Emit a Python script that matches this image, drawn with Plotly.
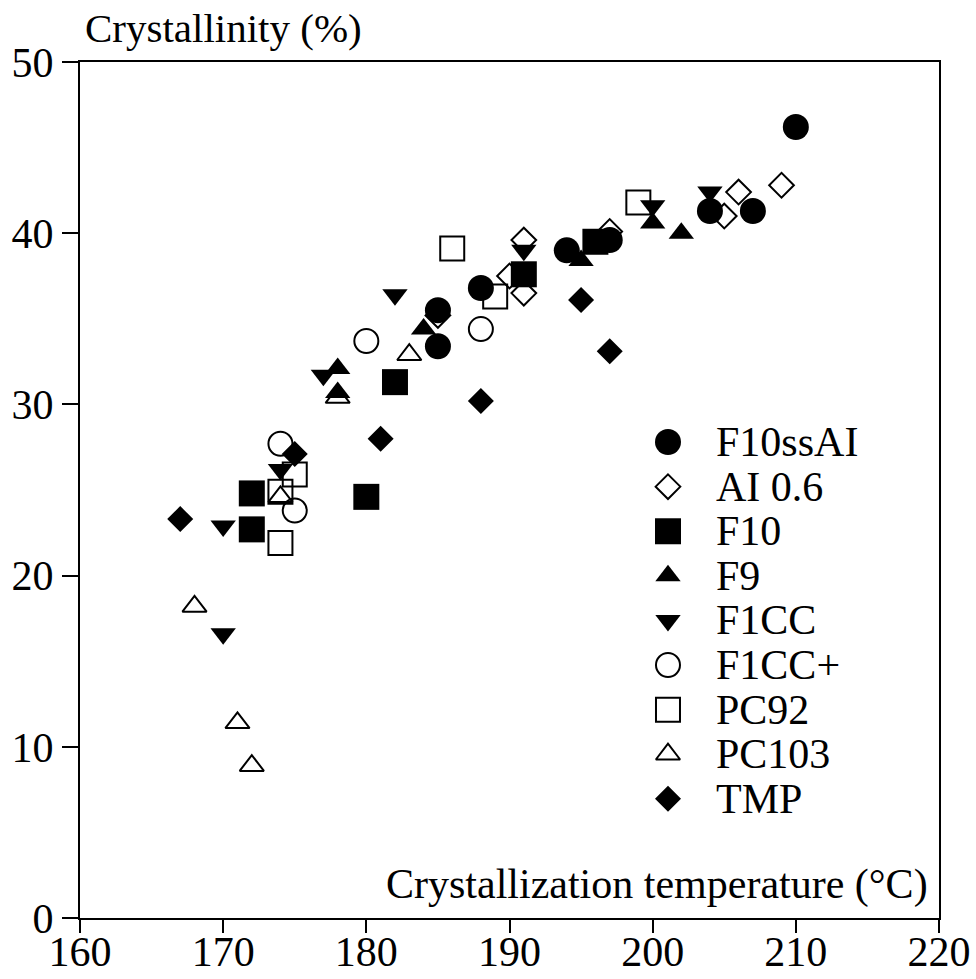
import plotly.graph_objects as go

# ---- data ----
f10ssai_x = [185, 185, 188, 194, 197, 204, 207, 210]
f10ssai_y = [33.4, 35.5, 36.8, 39.0, 39.6, 41.3, 41.3, 46.2]

ai06_x = [185, 190, 191, 191, 197, 205, 206, 209]
ai06_y = [35.2, 37.5, 39.6, 36.5, 40.1, 41.0, 42.4, 42.8]

f10_x = [172, 172, 180, 182, 191, 196]
f10_y = [24.8, 22.7, 24.6, 31.3, 37.6, 39.5]

f9_x = [178, 178, 184, 195, 200, 202]
f9_y = [32.1, 30.7, 34.4, 38.4, 40.6, 40.0]

f1cc_x = [170, 170, 174, 177, 182, 191, 200, 204]
f1cc_y = [16.6, 22.9, 26.2, 31.7, 36.4, 39.0, 41.6, 42.4]

f1ccp_x = [174, 175, 180, 188]
f1ccp_y = [27.7, 23.8, 33.7, 34.4]

pc92_x = [174, 174, 175, 186, 189, 199]
pc92_y = [21.9, 24.9, 25.9, 39.1, 36.3, 41.8]

pc103_x = [168, 171, 172, 174, 178, 183]
pc103_y = [18.2, 11.4, 8.9, 24.6, 30.4, 32.9]

tmp_x = [167, 175, 181, 188, 195, 197]
tmp_y = [23.3, 27.1, 28.0, 30.2, 36.1, 33.1]

series_names = ["F10ssAI", "AI 0.6", "F10", "F9", "F1CC", "F1CC+", "PC92", "PC103", "TMP"]
x_ticks = [160, 170, 180, 190, 200, 210, 220]
y_ticks = [0, 10, 20, 30, 40, 50]

# ---- styles ----
FONT = "Liberation Serif"
FS = 42
styles = {
    "F10ssAI": dict(symbol="circle", size=26),
    "AI 0.6": dict(symbol="diamond-open", size=19),
    "F10": dict(symbol="square", size=26),
    "F9": dict(symbol="triangle-up", size=22),
    "F1CC": dict(symbol="triangle-down", size=22),
    "F1CC+": dict(symbol="circle-open", size=24),
    "PC92": dict(symbol="square-open", size=24),
    "PC103": dict(symbol="triangle-up-open", size=21),
    "TMP": dict(symbol="diamond", size=20),
}
data = {
    "F10ssAI": (f10ssai_x, f10ssai_y),
    "AI 0.6": (ai06_x, ai06_y),
    "F10": (f10_x, f10_y),
    "F9": (f9_x, f9_y),
    "F1CC": (f1cc_x, f1cc_y),
    "F1CC+": (f1ccp_x, f1ccp_y),
    "PC92": (pc92_x, pc92_y),
    "PC103": (pc103_x, pc103_y),
    "TMP": (tmp_x, tmp_y),
}

fig = go.Figure()

# open markers first, filled on top
order = ["AI 0.6", "F1CC+", "PC92", "PC103", "F10ssAI", "F10", "F9", "F1CC", "TMP"]
for name in order:
    xs, ys = data[name]
    st = styles[name]
    fig.add_trace(go.Scatter(
        x=xs, y=ys, mode="markers", name=name, showlegend=False,
        marker=dict(symbol=st["symbol"], size=st["size"], color="black",
                    line=dict(color="black", width=2 if "open" in st["symbol"] else 0)),
    ))

# custom legend (large markers) on an overlay axis with 0..1 range
leg_x_marker = 0.6845
leg_x_text = 0.738
leg_y0 = 0.556
leg_step = 0.0521
for i, name in enumerate(series_names):
    st = styles[name]
    yy = leg_y0 - i * leg_step
    fig.add_trace(go.Scatter(
        x=[leg_x_marker], y=[yy], xaxis="x2", yaxis="y2", mode="markers",
        showlegend=False, hoverinfo="skip",
        marker=dict(symbol=st["symbol"], size=st["size"], color="black",
                    line=dict(color="black", width=2 if "open" in st["symbol"] else 0)),
    ))
    fig.add_annotation(x=leg_x_text, y=yy, xref="paper", yref="paper", text=name,
                       showarrow=False, xanchor="left", yanchor="middle",
                       font=dict(family=FONT, size=FS, color="black"))

fig.add_annotation(x=0.003, y=1.04, xref="paper", yref="paper", text="Crystallinity (%)",
                   showarrow=False, xanchor="left", yanchor="middle",
                   font=dict(family=FONT, size=41, color="black"))
fig.add_annotation(x=0.99, y=0.039, xref="paper", yref="paper",
                   text="Crystallization temperature (°C)",
                   showarrow=False, xanchor="right", yanchor="middle",
                   font=dict(family=FONT, size=FS, color="black"))

axis_common = dict(showgrid=False, zeroline=False, showline=True, linecolor="black",
                   linewidth=2, mirror=True, ticks="outside", tickcolor="black",
                   tickwidth=2, automargin=False,
                   tickfont=dict(family=FONT, size=FS, color="black"))

fig.update_layout(
    width=976, height=979,
    margin=dict(l=80, r=37, t=62, b=61, autoexpand=False),
    paper_bgcolor="white", plot_bgcolor="white",
    xaxis=dict(range=[160, 220], tickvals=x_ticks, ticklen=13, ticklabelstandoff=-17,
               **axis_common),
    yaxis=dict(range=[0, 50], tickvals=y_ticks, ticklen=16, **axis_common),
    xaxis2=dict(range=[0, 1], overlaying="x", visible=False, domain=[0, 1]),
    yaxis2=dict(range=[0, 1], overlaying="y", visible=False, domain=[0, 1]),
    showlegend=False,
)

fig.write_html("out.html", config={"displayModeBar": False},
               post_script="document.body.style.margin='0';document.body.style.overflow='hidden';")
